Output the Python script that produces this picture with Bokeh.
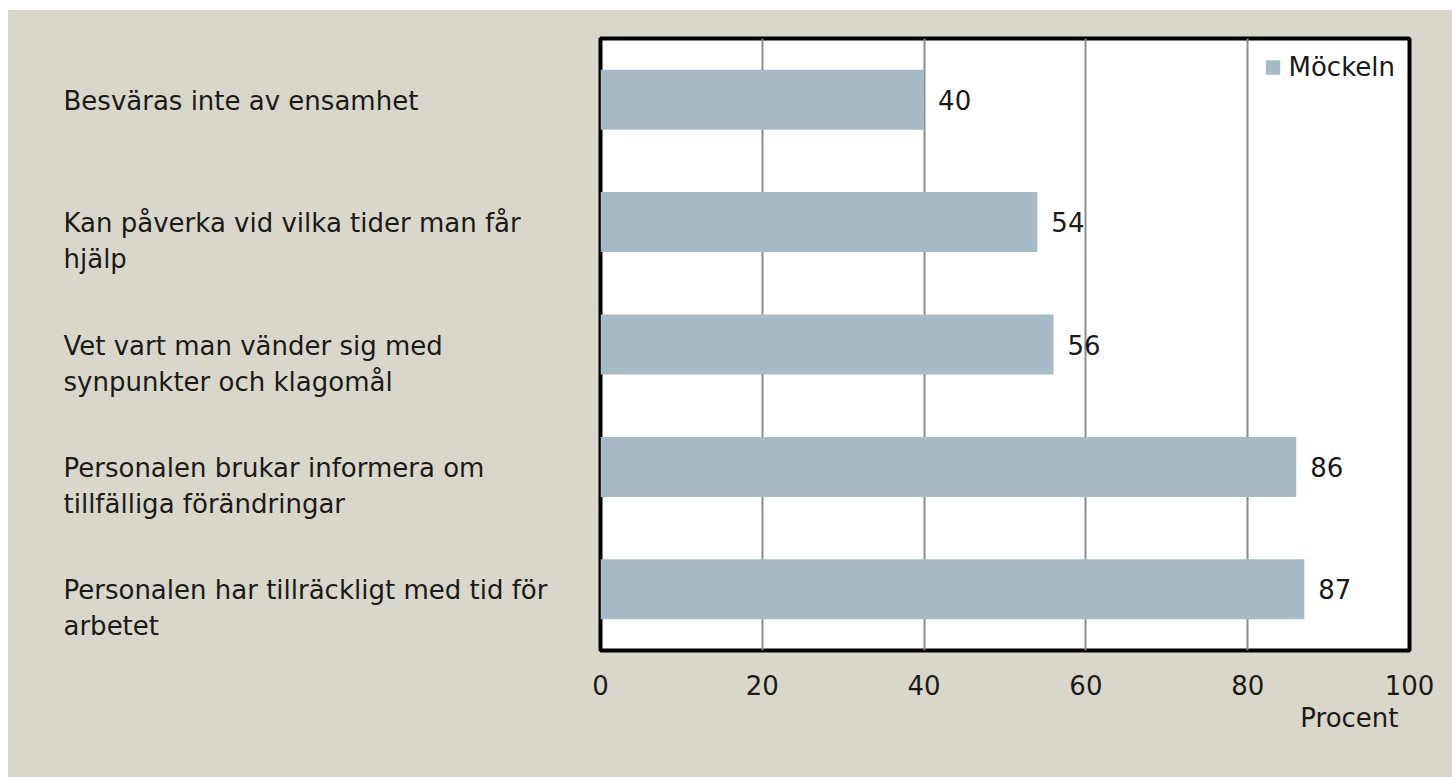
from bokeh.plotting import figure
from bokeh.models import Range1d, FactorRange, FixedTicker, Legend, LegendItem, Title
from bokeh.layouts import row
from bokeh.embed import file_html
from bokeh.resources import INLINE
from bokeh.core.properties import value

# ---- data ----
categories = [
    "Besväras inte av ensamhet",
    "Kan påverka vid vilka tider man får hjälp",
    "Vet vart man vänder sig med synpunkter och klagomål",
    "Personalen brukar informera om tillfälliga förändringar",
    "Personalen har tillräckligt med tid för arbetet",
]
category_labels = [
    "Besväras inte av ensamhet",
    "Kan påverka vid vilka tider man får\nhjälp",
    "Vet vart man vänder sig med\nsynpunkter och klagomål",
    "Personalen brukar informera om\ntillfälliga förändringar",
    "Personalen har tillräckligt med tid för\narbetet",
]
values = [40, 54, 56, 86, 87]
series_name = "Möckeln"
x_ticks = [0, 20, 40, 60, 80, 100]
x_title = "Procent"

# ---- style ----
BG = "#D9D7CB"
BAR = "#A6BBC6"
TXT = "#1A1A1A"
FONT = "DejaVu Sans"
FS = "26px"

FRAME_H = 612
TOP = 28
BOTTOM = 127
WL = 580

y_range = FactorRange(factors=list(reversed(categories)))

# left panel holding the category labels
left = figure(frame_width=WL, frame_height=FRAME_H,
              x_range=Range1d(0, WL), y_range=y_range,
              output_backend="svg", toolbar_location=None,
              min_border_left=0, min_border_right=0,
              min_border_top=TOP, min_border_bottom=BOTTOM)
left.axis.visible = False
left.grid.visible = False
left.outline_line_color = None
left.background_fill_color = None
left.border_fill_color = BG
left.text(x=[55] * len(categories), y=categories, text=category_labels,
          y_offset=-14, text_align="left", text_baseline="top",
          text_font=value(FONT), text_font_size=FS, text_color=TXT,
          text_line_height=1.2)

# main chart
p = figure(
    frame_width=809, frame_height=FRAME_H,
    x_range=Range1d(0, 100), y_range=y_range,
    output_backend="svg", toolbar_location=None,
    min_border_left=12, min_border_right=43,
    min_border_top=TOP, min_border_bottom=BOTTOM,
)
p.background_fill_color = "white"
p.border_fill_color = BG
p.outline_line_color = "black"
p.outline_line_width = 4

r = p.hbar(y=categories, right=values, left=0, height=0.49,
           fill_color=BAR, line_color=None)

p.text(x=values, y=categories, text=[str(v) for v in values],
       x_offset=14, text_align="left", text_baseline="middle",
       text_font_size=FS, text_font=value(FONT), text_color=TXT)

p.yaxis.visible = False
p.ygrid.grid_line_color = None

xa = p.xaxis[0]
xa.ticker = FixedTicker(ticks=x_ticks)
xa.axis_line_color = None
xa.major_tick_line_color = None
xa.minor_tick_line_color = None
xa.major_label_standoff = 18
xa.major_label_text_font = FONT
xa.major_label_text_font_size = FS
xa.major_label_text_color = TXT

p.xgrid.ticker = FixedTicker(ticks=x_ticks)
p.xgrid.grid_line_color = "#8C8C8C"
p.xgrid.grid_line_width = 2

p.add_layout(Title(text=x_title, align="right", offset=11, standoff=6,
                   text_font=FONT, text_font_size=FS, text_font_style="normal",
                   text_color=TXT), "below")

lg = Legend(items=[LegendItem(label=series_name, renderers=[r])],
            location="top_right", orientation="horizontal",
            background_fill_alpha=0, border_line_alpha=0,
            padding=0, margin=14, glyph_width=18, glyph_height=18,
            label_standoff=7, label_text_font=FONT, label_text_font_size=FS,
            label_text_color=TXT)
p.add_layout(lg, "center")

layout = row(left, p, margin=(10, 0, 0, 8), spacing=0,
             styles={"background-color": BG})

open("out.html", "w").write(file_html(layout, INLINE))
